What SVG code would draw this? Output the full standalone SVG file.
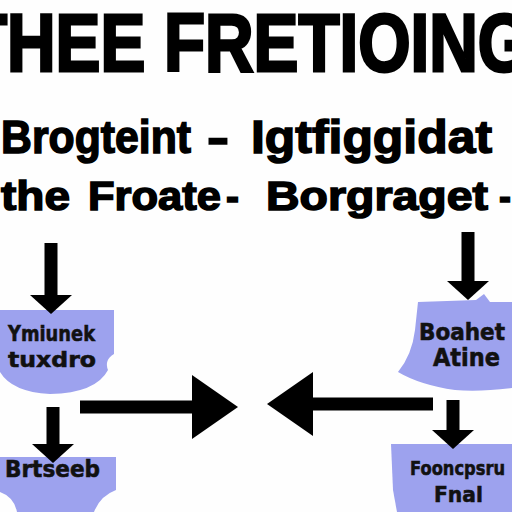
<svg xmlns="http://www.w3.org/2000/svg" width="512" height="512" viewBox="0 0 512 512">
  <style>
    .t { font-family: "Liberation Sans", "DejaVu Sans", sans-serif; font-weight: bold; fill: #000; stroke: #000; }
    .node { fill: #9da2ee; }
    .lbl { font-family: "DejaVu Sans", "Liberation Sans", sans-serif; font-weight: bold; fill: #111; stroke: #111; stroke-width: 0.6; }
    .conn { stroke: #000; stroke-width: 13; fill: none; }
  </style>
  <defs>
    <marker id="hs" markerUnits="userSpaceOnUse" markerWidth="19" markerHeight="42" viewBox="0 0 19 42" refX="0" refY="21" orient="auto">
      <path d="M0,0 L19,21 L0,42 Z" fill="#000"/>
    </marker>
    <marker id="hl" markerUnits="userSpaceOnUse" markerWidth="46" markerHeight="64" viewBox="0 0 46 64" refX="0" refY="32" orient="auto">
      <path d="M0,0 L46,32 L0,64 Z" fill="#000"/>
    </marker>
  </defs>
  <rect width="512" height="512" fill="#fefefe"/>

  <g id="title">
    <text class="t" x="-34" y="71" font-size="82" stroke-width="3" textLength="564" lengthAdjust="spacingAndGlyphs">THEE FRETIOING</text>
  </g>
  <g id="heading">
    <text class="t" x="1" y="153" font-size="46" stroke-width="1.5" textLength="190" lengthAdjust="spacingAndGlyphs">Brogteint</text>
    <text class="t" x="207" y="153" font-size="46" stroke-width="1.5" textLength="22" lengthAdjust="spacingAndGlyphs">-</text>
    <text class="t" x="251" y="153" font-size="46" stroke-width="1.5" textLength="241" lengthAdjust="spacingAndGlyphs">Igtfiggidat</text>
    <text class="t" x="1" y="210" font-size="40" stroke-width="1.5" textLength="69" lengthAdjust="spacingAndGlyphs">the</text>
    <text class="t" x="88" y="210" font-size="40" stroke-width="1.5" textLength="133" lengthAdjust="spacingAndGlyphs">Froate</text>
    <text class="t" x="226" y="210" font-size="40" stroke-width="1.5" textLength="13" lengthAdjust="spacingAndGlyphs">-</text>
    <text class="t" x="266" y="210" font-size="40" stroke-width="1.5" textLength="222" lengthAdjust="spacingAndGlyphs">Borgraget</text>
    <text class="t" x="499" y="210" font-size="40" stroke-width="1.5" textLength="12" lengthAdjust="spacingAndGlyphs">-</text>
  </g>

  <g id="node-ymiunek">
    <path class="node" d="M0,310 L114,310 L114,354 Q104,360 108,370 Q96,393 50,394 Q12,392 0,372 Z"/>
    <text class="lbl" x="8" y="341" font-size="22" textLength="87" lengthAdjust="spacingAndGlyphs">Ymiunek</text>
    <text class="lbl" x="8" y="367" font-size="22" textLength="88" lengthAdjust="spacingAndGlyphs">tuxdro</text>
  </g>
  <g id="node-brtseeb">
    <path class="node" d="M0,457 L116,457 L116,490 Q100,496 94,512 L17,512 Q14,497 0,492 Z"/>
    <text class="lbl" x="5" y="477" font-size="23" textLength="95" lengthAdjust="spacingAndGlyphs">Brtseeb</text>
  </g>
  <g id="node-boahet">
    <path class="node" d="M418,302 L476,300 L484,294 L490,302 L512,302 L512,388 Q480,392 455,390 Q420,385 398,372 Q412,355 415,330 Z"/>
    <text class="lbl" x="419" y="340" font-size="23" textLength="86" lengthAdjust="spacingAndGlyphs">Boahet</text>
    <text class="lbl" x="433" y="366" font-size="24" textLength="67" lengthAdjust="spacingAndGlyphs">Atine</text>
  </g>
  <g id="node-fooncpsru">
    <path class="node" d="M391,444 L512,444 L512,512 L397,512 L393,490 Z"/>
    <text class="lbl" x="410" y="475" font-size="20" textLength="95" lengthAdjust="spacingAndGlyphs">Fooncpsru</text>
    <text class="lbl" x="434" y="502" font-size="22" textLength="49" lengthAdjust="spacingAndGlyphs">Fnal</text>
  </g>

  <g id="connectors">
    <line class="conn" x1="51" y1="243" x2="51" y2="295" marker-end="url(#hs)"/>
    <line class="conn" x1="53" y1="407" x2="53" y2="444" marker-end="url(#hs)"/>
    <line class="conn" x1="80" y1="407" x2="192" y2="407" marker-end="url(#hl)"/>
    <line class="conn" x1="433" y1="404" x2="313" y2="404" marker-end="url(#hl)"/>
    <line class="conn" x1="468" y1="232" x2="468" y2="281" marker-end="url(#hs)"/>
    <line class="conn" x1="453" y1="400" x2="453" y2="430" marker-end="url(#hs)"/>
  </g>
</svg>
